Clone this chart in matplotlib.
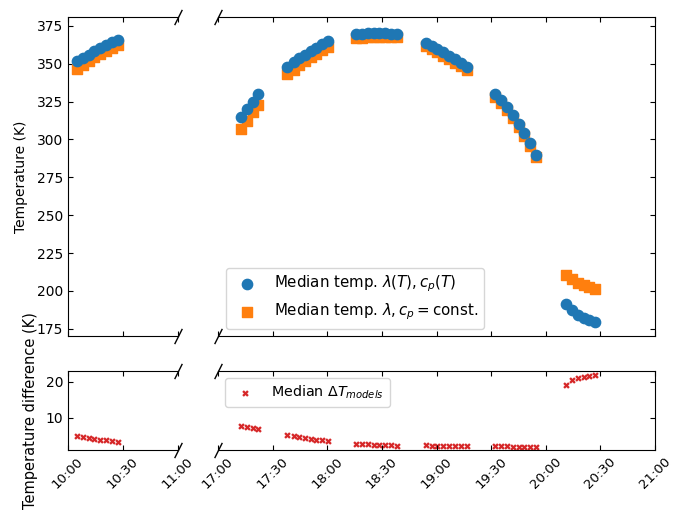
import matplotlib.pyplot as plt
import matplotlib.dates as mdates
import numpy as np
import pandas as pd

# sampling times (one day, two measurement windows)
times = [
    "10:04:40", "10:08:00", "10:11:20", "10:14:25", "10:17:30", "10:20:40", "10:23:55", "10:27:05",
    "17:12:30", "17:15:50", "17:19:00", "17:22:05",
    "17:38:05", "17:41:30", "17:44:35", "17:47:35", "17:50:55", "17:53:55", "17:57:10", "18:00:20",
    "18:15:40", "18:18:55", "18:22:10", "18:25:25", "18:28:40", "18:31:55", "18:35:10", "18:38:25",
    "18:54:05", "18:57:20", "19:00:30", "19:03:45", "19:07:00", "19:10:10", "19:13:25", "19:16:35",
    "19:32:20", "19:35:30", "19:38:40", "19:41:55", "19:45:05", "19:48:15", "19:51:30", "19:54:40",
    "20:11:05", "20:14:25", "20:17:30", "20:20:50", "20:24:00", "20:26:55",
]

# median temperature, lambda(T), cp(T)
temp_var = [
    351.5, 353.8, 356.0, 358.2, 360.2, 362.2, 364.0, 365.8,
    314.8, 320.0, 325.0, 329.7,
    348.1, 351.0, 353.6, 356.0, 358.4, 360.6, 362.8, 364.8,
    369.5, 369.9, 370.1, 370.2, 370.2, 370.1, 369.9, 369.5,
    363.8, 361.8, 359.7, 357.5, 355.2, 352.8, 350.3, 347.8,
    330.3, 326.3, 321.7, 316.3, 310.3, 304.4, 297.7, 290.0,
    191.2, 187.3, 184.4, 182.5, 180.8, 179.5,
]

# median temperature, constant lambda and cp
temp_const = [
    346.7, 349.3, 351.7, 354.1, 356.3, 358.5, 360.5, 362.5,
    307.0, 312.5, 317.9, 322.9,
    342.9, 346.1, 349.0, 351.7, 354.3, 356.7, 359.1, 361.3,
    366.7, 367.2, 367.5, 367.7, 367.8, 367.75, 367.6, 367.3,
    361.5, 359.55, 357.5, 355.3, 353.05, 350.7, 348.2, 345.75,
    328.25, 324.3, 319.7, 314.35, 308.35, 302.5, 295.8, 288.15,
    210.4, 207.8, 205.5, 203.9, 202.5, 201.5,
]

# median difference between the two models
delta_t = [
    4.8, 4.5, 4.3, 4.1, 3.9, 3.7, 3.5, 3.3,
    7.8, 7.5, 7.1, 6.8,
    5.2, 4.9, 4.6, 4.3, 4.1, 3.9, 3.7, 3.5,
    2.8, 2.7, 2.6, 2.5, 2.4, 2.35, 2.3, 2.2,
    2.3, 2.25, 2.2, 2.2, 2.15, 2.1, 2.1, 2.05,
    2.05, 2.0, 2.0, 1.95, 1.95, 1.9, 1.9, 1.85,
    19.2, 20.5, 21.1, 21.4, 21.7, 22.0,
]

day = "2023-06-21 "
t = pd.to_datetime([day + s for s in times])
xlim_left = (pd.Timestamp(day + "10:00"), pd.Timestamp(day + "11:00"))
xlim_right = (pd.Timestamp(day + "17:00"), pd.Timestamp(day + "21:00"))

fig = plt.figure(figsize=(6.73, 5.14), dpi=100)
W, H = 673, 514


def box(x0, x1, y0, y1):
    return [x0 / W, 1 - y1 / H, (x1 - x0) / W, (y1 - y0) / H]


ax1 = fig.add_axes(box(68, 178, 17, 336))
ax2 = fig.add_axes(box(218, 655, 17, 336))
ax3 = fig.add_axes(box(68, 178, 371, 450))
ax4 = fig.add_axes(box(218, 655, 371, 450))

for ax in (ax1, ax2):
    ax.scatter(t, temp_var, s=55, marker='o', color='tab:blue', zorder=3,
               label=r'Median temp. $\lambda(T), c_p(T)$')
    ax.scatter(t, temp_const, s=55, marker='s', color='tab:orange', zorder=2,
               label=r'Median temp. $\lambda, c_p = $const.')
    ax.set_ylim(170.3, 380.8)
    ax.set_yticks(np.arange(175, 376, 25))

for ax in (ax3, ax4):
    ax.scatter(t, delta_t, s=22, marker='X', color='tab:red', linewidths=0,
               label=r'Median $\Delta T_{models}$')
    ax.set_ylim(1.0, 23.05)
    ax.set_yticks([10, 20])

for ax in (ax1, ax3):
    ax.set_xlim(*xlim_left)
    ax.spines['right'].set_visible(False)
    ax.tick_params(direction='in', top=True, right=False)
for ax in (ax2, ax4):
    ax.set_xlim(*xlim_right)
    ax.spines['left'].set_visible(False)
    ax.tick_params(direction='in', top=True, right=True, left=False, labelleft=False)

for ax in (ax1, ax2, ax3, ax4):
    ax.xaxis.set_major_locator(mdates.MinuteLocator(byminute=[0, 30]))
    ax.xaxis.set_major_formatter(mdates.DateFormatter('%H:%M'))

for ax in (ax1, ax2):
    ax.tick_params(labelbottom=False)
for ax in (ax3, ax4):
    ax.tick_params(axis='x', labelsize=9.5, labelrotation=45)

# diagonal break marks
d = 2.0
kw = dict(marker=[(-1, -d), (1, d)], markersize=11, linestyle='none',
          color='k', mec='k', mew=1, clip_on=False)
for ax in (ax1, ax3):
    ax.plot([1, 1], [0, 1], transform=ax.transAxes, **kw)
for ax in (ax2, ax4):
    ax.plot([0, 0], [0, 1], transform=ax.transAxes, **kw)

ax1.set_ylabel('Temperature (K)')
ax3.set_ylabel('Temperature difference (K)', fontsize=10.5)
ax1.yaxis.set_label_coords(-0.36, 0.5)
ax3.yaxis.set_label_coords(-0.27, 0.5)

ax2.legend(loc='lower left', scatterpoints=1, fontsize=10.8)
ax4.legend(loc='upper left', scatterpoints=1, fontsize=10.3)

fig.savefig('out.png', dpi=100)
